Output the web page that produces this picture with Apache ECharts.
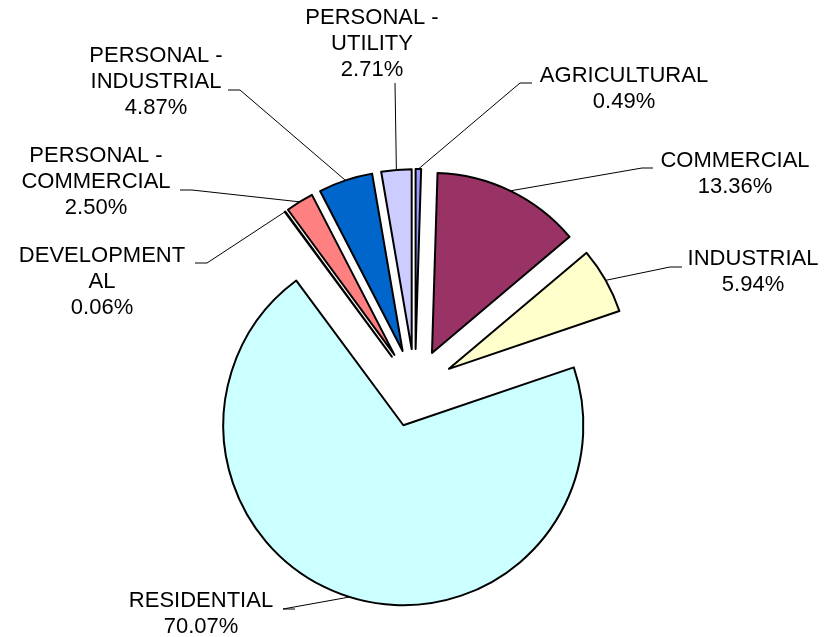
<!DOCTYPE html>
<html>
<head>
<meta charset="utf-8">
<script src="https://cdn.jsdelivr.net/npm/echarts@6/dist/echarts.min.js"></script>
<style>
  html, body { margin: 0; padding: 0; background: #fff; }
  #main { width: 835px; height: 637px; }
</style>
</head>
<body>
<div id="main"></div>
<script>
// 数据
const categories = ['AGRICULTURAL', 'COMMERCIAL', 'INDUSTRIAL', 'RESIDENTIAL', 'DEVELOPMENTAL',
  'PERSONAL - COMMERCIAL', 'PERSONAL - INDUSTRIAL', 'PERSONAL - UTILITY'];
const labelNames = ['AGRICULTURAL', 'COMMERCIAL', 'INDUSTRIAL', 'RESIDENTIAL', 'DEVELOPMENT\nAL',
  'PERSONAL -\nCOMMERCIAL', 'PERSONAL -\nINDUSTRIAL', 'PERSONAL -\nUTILITY'];
const shares = [0.49, 13.36, 5.94, 70.07, 0.06, 2.50, 4.87, 2.71];
const colors = ['#9999FF', '#993366', '#FFFFCC', '#CCFFFF', '#660066', '#FF8080', '#0066CC', '#CCCCFF'];

// 饼图位置
const CX = 415, CY = 388, R = 180, OFFSET = 39;
// 标签中心 和 引导线在标签一侧的两个点
const labelBox = [[624, 89], [735, 174], [753, 272], [201, 614], [102, 282], [96, 182], [156, 82], [372, 44]];
const leaderEnd = [[520, 83, 532, 83], [642, 168, 653, 168], [670, 267, 682, 267], [283, 609, 295, 609],
  [207, 263, 195, 263], [192, 190, 180, 190], [240, 90, 228, 90], [395, 83, 395, 83]];

const total = shares.reduce((a, b) => a + b, 0);
// 扇区外沿中点（含分离偏移）
function slicePoint(i) {
  let before = 0;
  for (let k = 0; k < i; k++) before += shares[k];
  const a = (before + shares[i] / 2) / total * 2 * Math.PI;
  return [CX + Math.sin(a) * (R + OFFSET), CY - Math.cos(a) * (R + OFFSET)];
}

const chart = echarts.init(document.getElementById('main'));
const option = {
  animation: false,
  backgroundColor: '#fff',
  series: [
    {
      // 分离的扇区
      type: 'pie',
      center: [CX, CY],
      radius: R,
      startAngle: 90,
      clockwise: true,
      selectedMode: 'multiple',
      selectedOffset: OFFSET,
      itemStyle: { borderColor: '#000', borderWidth: 2 },
      emphasis: { disabled: true },
      label: { show: false },
      labelLine: { show: false },
      data: categories.map((name, i) => ({
        name: name,
        value: shares[i],
        selected: true,
        itemStyle: { color: colors[i] }
      }))
    },
    {
      // 标签和引导线
      type: 'pie',
      center: [CX, CY],
      radius: R,
      startAngle: 90,
      clockwise: true,
      silent: true,
      avoidLabelOverlap: false,
      minShowLabelAngle: 0,
      itemStyle: { color: 'rgba(0,0,0,0)', borderWidth: 0 },
      emphasis: { disabled: true },
      label: {
        show: true,
        position: 'outside',
        color: '#000',
        fontFamily: 'Arial, "Liberation Sans", sans-serif',
        fontSize: 22,
        lineHeight: 26,
        align: 'center',
        formatter: p => labelNames[p.dataIndex] + '\n' + shares[p.dataIndex].toFixed(2) + '%'
      },
      labelLine: { show: true, lineStyle: { color: '#000', width: 1 } },
      labelLayout: function (params) {
        const i = params.dataIndex;
        const le = leaderEnd[i];
        return {
          x: labelBox[i][0],
          y: labelBox[i][1],
          align: 'center',
          verticalAlign: 'middle',
          labelLinePoints: [slicePoint(i), [le[0], le[1]], [le[2], le[3]]]
        };
      },
      data: categories.map((name, i) => ({ name: name, value: shares[i] }))
    }
  ]
};
chart.setOption(option);
</script>
</body>
</html>
